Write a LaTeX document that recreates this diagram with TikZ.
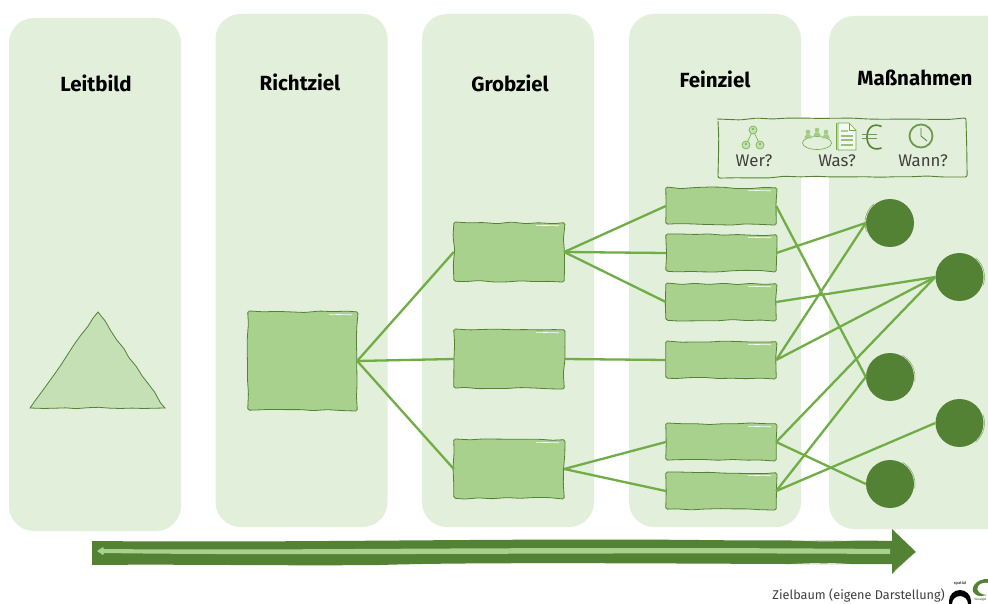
\documentclass[tikz,border=0pt]{standalone}
\usepackage{fontspec}
\setmainfont{Fira Sans}
\usetikzlibrary{decorations.pathmorphing}
\definecolor{colbg}{HTML}{E2EFDA}
\definecolor{boxfill}{HTML}{A9D18E}
\definecolor{trifill}{HTML}{C5E0B4}
\definecolor{dk}{HTML}{548235}
\definecolor{conn}{HTML}{70AD47}
\definecolor{txt}{HTML}{404040}
\pgfmathsetseed{11}
\tikzset{
  x=1pt,y=-1pt,
  wob/.style={decorate,rounded corners=1.6pt,decoration={random steps,segment length=14pt,amplitude=0.9pt,pre length=1pt,post length=1pt}},
  column/.style={fill=colbg,draw=none,rounded corners=25pt},
  title/.style={font=\bfseries\fontsize{20.5}{22}\selectfont,text=black,anchor=center,inner sep=0pt},
  boxnode/.style={rectangle,inner sep=0pt,minimum width=110pt,fill=boxfill,draw=none},
  boxedge/.style={draw=dk,line width=0.8pt,wob},
  dotnode/.style={circle,inner sep=0pt,minimum size=48pt,fill=dk,draw=none},
  link/.style={draw=conn,line width=2.3pt},
  ask/.style={font=\fontsize{16.8}{18}\selectfont,text=txt,anchor=center,inner sep=0pt},
  icon/.style={draw=conn,line width=0.6pt,fill=none},
  iconfill/.style={draw=conn,line width=0.6pt,fill=trifill},
}
\begin{document}
\begin{tikzpicture}
\useasboundingbox (0,0) rectangle (988,604);
\clip (0,0) rectangle (988,604);
\fill[white] (0,0) rectangle (988,604);
% columns
\path[column] (9,18) rectangle (181,531);
\path[column] (215.5,14) rectangle (387.5,527);
\path[column] (422,14) rectangle (594,527);
\path[column] (629,14) rectangle (801,527);
\path[column] (829,16) rectangle (1030,529);
% titles
\node[title] (tLeit) at (96,83) {Leitbild};
\node[title] (tRicht) at (300,82) {Richtziel};
\node[title] (tGrob) at (510,83) {Grobziel};
\node[title] (tFein) at (715,79) {Feinziel};
\node[title] (tMass) at (915,78) {Maßnahmen};
% triangle
\path[fill=trifill,draw=dk,line width=0.8pt,decorate,decoration={random steps,segment length=11pt,amplitude=0.9pt}] (30,408) -- (98,312) -- (165,408) -- cycle;
% boxes
\node[boxnode,minimum width=109pt,minimum height=98pt] (R) at (302.5,361) {};
\node[boxnode,minimum height=58pt] (G1) at (509,252) {};
\node[boxnode,minimum height=58pt] (G2) at (509,359) {};
\node[boxnode,minimum height=58pt] (G3) at (509,469) {};
\node[boxnode,minimum height=36pt] (F1) at (721,206) {};
\node[boxnode,minimum height=36pt] (F2) at (721,253) {};
\node[boxnode,minimum height=36pt] (F3) at (721,302) {};
\node[boxnode,minimum height=36pt] (F4) at (721,360) {};
\node[boxnode,minimum height=36pt] (F5) at (721,442) {};
\node[boxnode,minimum height=36pt] (F6) at (721,491) {};
\foreach \b in {R,G1,G2,G3,F1,F2,F3,F4,F5,F6} {
  \draw[boxedge,fill=boxfill] (\b.south west) rectangle (\b.north east);
  \draw[white,line width=0.6pt] ([shift={(-28,2.5)}]\b.north east) -- ([shift={(-5,3)}]\b.north east);
}
% circles
\node[dotnode] (C1) at (890,223) {};
\node[dotnode] (C2) at (959.5,277) {};
\node[dotnode] (C3) at (890,377) {};
\node[dotnode] (C4) at (959.5,423) {};
\node[dotnode] (C5) at (890,484) {};
\foreach \c/\a in {C1/200,C2/50,C3/60,C4/20,C5/60} {
  \draw[dk,line width=0.5pt,opacity=.7] (\c) ++(\a:25pt) arc[start angle=\a,end angle=\a-70,radius=25pt];
}
% connectors
\foreach \a/\b in {R/G1,R/G2,R/G3,G1/F1,G1/F2,G1/F3,G2/F4,G3/F5,G3/F6,F1/C3,F2/C1,F3/C2,F4/C1,F4/C2,F5/C2,F5/C5,F6/C3,F6/C4}
  \draw[link] (\a.east) -- (\b.west);
% legend
\path[fill=colbg,draw=dk,line width=0.9pt,decorate,rounded corners=2pt,decoration={random steps,segment length=16pt,amplitude=1pt}] (718,119) rectangle (966,177);
% Wer icon
\coordinate (w1) at (753,130); \coordinate (w2) at (746,145); \coordinate (w3) at (760,145);
\draw[icon] (w1) -- (w2) (w1) -- (w3);
\foreach \c in {w1,w2,w3} {\draw[iconfill] (\c) circle (4pt); \fill[conn] (\c)++(0,-1) circle (1.2pt); }
% Was icon: group
\draw[icon] (817,143) ellipse (14.5pt and 6.5pt);
\foreach \px/\py in {808/132,817/130,826/132} {
  \fill[trifill!60!conn] (\px,\py) circle (2.3pt);
  \fill[trifill!60!conn] (\px-4,\py+6.5) -- (\px-2,\py+2.5) -- (\px+2,\py+2.5) -- (\px+4,\py+6.5) -- cycle;
}
% document
\draw[conn,line width=0.8pt] (836.5,123) -- (836.5,150);
\draw[fill=colbg!40!white,draw=conn,line width=0.6pt] (838,123) -- (849,123) -- (856,130) -- (856,150) -- (838,150) -- cycle;
\draw[conn,line width=0.6pt] (849,123) -- (849,130) -- (856,130);
\draw[boxfill,line width=1.5pt] (841,131) -- (848,131);
\foreach \ly in {136,140,145} \draw[boxfill!80!dk,line width=1.8pt] (841,\ly) -- (853,\ly);
% euro
\draw[dk,line width=1.6pt] (881.5,126.5) .. controls (873,122.5) and (867,128) .. (867,137) .. controls (867,146) and (873,151) .. (881.5,148);
\draw[dk!70!boxfill,line width=1.4pt] (862,134.5) -- (877,134.5) (862,138.5) -- (877,138.5);
% clock
\draw[dk!70!boxfill,line width=1.8pt,fill=colbg] (921,136) circle (11.5pt);
\draw[dk,line width=0.8pt] (921,128) -- (921,136) -- (927,141);
% asks
\node[ask] (qWer) at (754,161) {Wer?};
\node[ask] (qWas) at (837,161) {Was?};
\node[ask] (qWann) at (923,161) {Wann?};
% arrow
\path[fill=dk] (92,541) .. controls (300,543) and (500,538) .. (700,540) .. controls (780,541) and (850,540) .. (892,541) -- (892,529) -- (916,552) -- (892,574) -- (892,564) .. controls (800,565) and (500,561) .. (380,565) .. controls (280,566) and (180,564) .. (92,565) -- cycle;
\draw[white,line width=0.7pt,opacity=.8] (795,539.5) .. controls (815,541.5) and (835,541.5) .. (860,539.5);
\draw[white,line width=0.7pt,opacity=.8] (790,564.5) .. controls (815,563) and (835,563) .. (850,564.5);
\draw[white,line width=0.6pt,opacity=.8] (895,571) -- (915,553);
\path[fill=boxfill] (97,551) -- (103,547) -- (104,549) .. controls (300,551) and (500,546) .. (890,549) -- (890,554) .. controls (600,552) and (300,556) .. (104,553) -- (103,555) -- cycle;
% caption
\node[anchor=east,inner sep=0pt,text=txt,font=\fontsize{12.7}{14}\selectfont] (cap) at (945,595.5) {Zielbaum (eigene Darstellung)};
% logo
\node[inner sep=0pt,font=\bfseries\fontsize{4}{5}\selectfont,text=black!70] (logoA) at (960,583) {spatial};
\path[fill=black] (949,604) -- (949,601) arc[start angle=180,end angle=0,radius=11pt] -- (971,604) -- (968,604) arc[start angle=0,end angle=180,radius=8pt] -- cycle;
\path[fill=dk] (989,579) .. controls (975,578) and (969,590) .. (975,594) .. controls (978,597) and (982,596) .. (987,595) .. controls (981,595) and (975,591) .. (978,586) .. controls (980,583) and (985,582) .. (989,583) -- cycle;
\node[inner sep=0pt,font=\bfseries\fontsize{2.8}{4}\selectfont,text=dk,anchor=west] (logoB) at (974.5,600) {foresight};
\end{tikzpicture}
\end{document}
